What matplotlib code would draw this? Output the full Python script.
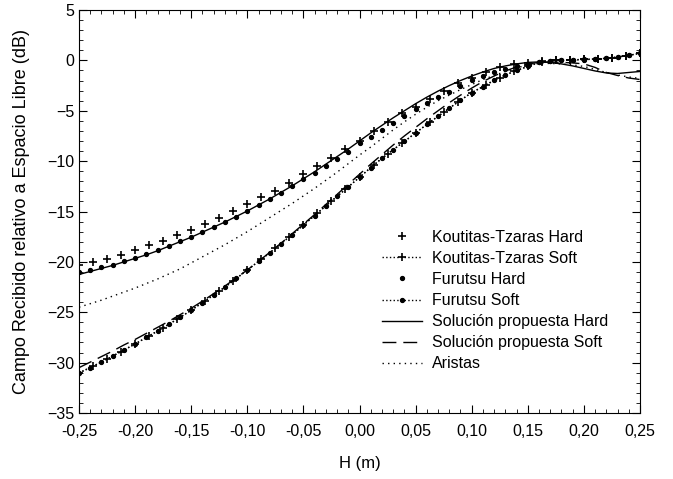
"""
Campo recibido relativo a espacio libre frente a la altura H.
"""
import numpy as np
import matplotlib.pyplot as plt
from matplotlib.ticker import MultipleLocator, FuncFormatter

plt.rcParams['font.family'] = ['Liberation Sans', 'DejaVu Sans']

# abscisas: rejilla de 0.01 (Furutsu y curvas continuas) y de 0.0125 (Koutitas-Tzaras)
h_fine = np.round(np.arange(-0.25, 0.2501, 0.01), 4)
h_kt = np.round(np.arange(-0.25, 0.2501, 0.0125), 4)

kt_hard = [-20.3, -20.05, -19.7, -19.3, -18.85, -18.35, -17.9, -17.35, -16.8, -16.25,
           -15.6, -14.95, -14.25, -13.6, -12.95, -12.15, -11.3, -10.5, -9.65, -8.8,
           -8.05, -7.05, -6.1, -5.25, -4.6, -3.85, -3.05, -2.25, -1.7, -1.15,
           -0.65, -0.4, -0.25, -0.1, 0.0, 0.05, 0.1, 0.15, 0.25, 0.45, 0.7]

kt_soft = [-31.0, -30.35, -29.65, -28.9, -28.15, -27.35, -26.55, -25.7, -24.8, -23.85,
           -22.9, -21.9, -20.8, -19.75, -18.65, -17.5, -16.35, -15.15, -13.95, -12.8,
           -11.6, -10.4, -9.3, -8.25, -7.2, -6.15, -5.15, -4.15, -3.2, -2.45,
           -1.7, -1.1, -0.6, -0.15, 0.0, 0.05, 0.1, 0.15, 0.25, 0.45, 0.7]

fur_hard = [-21.0, -20.8, -20.55, -20.3, -19.95, -19.6, -19.25, -18.85, -18.4, -17.95,
            -17.5, -17.05, -16.55, -16.05, -15.5, -14.95, -14.35, -13.75, -13.15, -12.5,
            -11.8, -11.15, -10.45, -9.75, -9.05, -8.25, -7.6, -6.9, -6.2, -5.5,
            -4.85, -4.2, -3.65, -3.1, -2.5, -1.95, -1.55, -1.15, -0.85, -0.6,
            -0.35, -0.15, -0.05, 0.0, 0.05, 0.1, 0.15, 0.2, 0.35, 0.5, 0.7]

fur_soft = [-31.05, -30.5, -29.95, -29.35, -28.75, -28.15, -27.5, -26.85, -26.2, -25.5,
            -24.8, -24.05, -23.3, -22.5, -21.65, -20.8, -19.95, -19.1, -18.2, -17.3,
            -16.35, -15.4, -14.45, -13.5, -12.55, -11.6, -10.65, -9.7, -8.85, -8.05,
            -7.2, -6.35, -5.55, -4.75, -3.95, -3.2, -2.6, -1.95, -1.45, -1.0,
            -0.6, -0.2, -0.05, 0.0, 0.05, 0.05, 0.15, 0.2, 0.35, 0.5, 0.7]

sol_hard = [-21.25, -20.95, -20.65, -20.35, -20.0, -19.65, -19.3, -18.9, -18.45, -18.0,
            -17.55, -17.05, -16.55, -16.05, -15.5, -14.95, -14.35, -13.75, -13.1, -12.45,
            -11.75, -11.05, -10.3, -9.55, -8.8, -8.0, -7.2, -6.45, -5.7, -5.0,
            -4.3, -3.65, -3.05, -2.5, -2.0, -1.55, -1.15, -0.8, -0.55, -0.35,
            -0.2, -0.15, -0.2, -0.35, -0.55, -0.8, -1.05, -1.25, -1.3, -1.2, -1.1]

sol_soft = [-30.5, -29.95, -29.4, -28.85, -28.25, -27.7, -27.1, -26.5, -25.9, -25.25,
            -24.6, -23.9, -23.15, -22.4, -21.6, -20.8, -19.95, -19.05, -18.15, -17.2,
            -16.25, -15.3, -14.3, -13.3, -12.3, -11.3, -10.3, -9.35, -8.4, -7.5,
            -6.65, -5.8, -5.0, -4.2, -3.45, -2.75, -2.1, -1.55, -1.05, -0.65,
            -0.35, -0.2, -0.15, -0.2, -0.25, -0.35, -0.7, -1.2, -1.5, -1.75, -1.9]

aristas = [-24.5, -24.15, -23.8, -23.4, -23.0, -22.6, -22.15, -21.7, -21.2, -20.7,
           -20.1, -19.5, -18.9, -18.3, -17.65, -17.0, -16.3, -15.6, -14.9, -14.2,
           -13.45, -12.7, -11.9, -11.1, -10.25, -9.4, -8.6, -7.75, -6.9, -6.1,
           -5.35, -4.65, -4.0, -3.45, -2.9, -2.4, -1.9, -1.5, -1.1, -0.75,
           -0.45, -0.3, -0.3, -0.35, -0.45, -0.6, -0.9, -1.2, -1.45, -1.65, -1.8]

fig = plt.figure(figsize=(6.73, 4.79), dpi=100)
ax = fig.add_axes([0.1174, 0.1378, 0.8336, 0.8413])

k = 'black'
ax.plot(h_kt, kt_hard, ls='none', marker='+', ms=6, mew=1.2, color=k,
        label='Koutitas-Tzaras Hard')
ax.plot(h_kt, kt_soft, ls=':', lw=1, marker='+', ms=6, mew=1.2, color=k,
        label='Koutitas-Tzaras Soft')
ax.plot(h_fine, fur_hard, ls='none', marker='o', ms=2.8, color=k,
        label='Furutsu Hard')
ax.plot(h_fine, fur_soft, ls=':', lw=1, marker='o', ms=2.8, color=k,
        label='Furutsu Soft')
ax.plot(h_fine, sol_hard, ls='-', lw=1, color=k, label='Solución propuesta Hard')
ax.plot(h_fine, sol_soft, ls=(0, (10, 5)), lw=1, color=k,
        label='Solución propuesta Soft')
ax.plot(h_fine, aristas, ls=(0, (1, 3)), lw=1, color=k, label='Aristas')

ax.set_xlim(-0.25, 0.25)
ax.set_ylim(-35, 5)
ax.xaxis.set_major_locator(MultipleLocator(0.05))
ax.xaxis.set_minor_locator(MultipleLocator(0.01))
ax.yaxis.set_major_locator(MultipleLocator(5))
ax.yaxis.set_minor_locator(MultipleLocator(1))
ax.xaxis.set_major_formatter(FuncFormatter(lambda v, p: f'{v:.2f}'.replace('.', ',').replace('-0,00', '0,00')))
ax.tick_params(which='both', direction='in', top=True, right=True, labelsize=11.5)
ax.tick_params(which='major', length=6)
ax.tick_params(which='minor', length=3)
ax.tick_params(axis='x', which='major', pad=8)

ax.set_xlabel('H (m)', fontsize=12, labelpad=12)
ax.set_ylabel('Campo Recibido relativo a Espacio Libre (dB)', fontsize=13, labelpad=12)

ax.legend(loc='upper left', bbox_to_anchor=(0.515, 0.49), frameon=False, fontsize=11.5,
          labelspacing=0.38, handlelength=2.5, handletextpad=0.6)

fig.savefig('out.png', dpi=100)
